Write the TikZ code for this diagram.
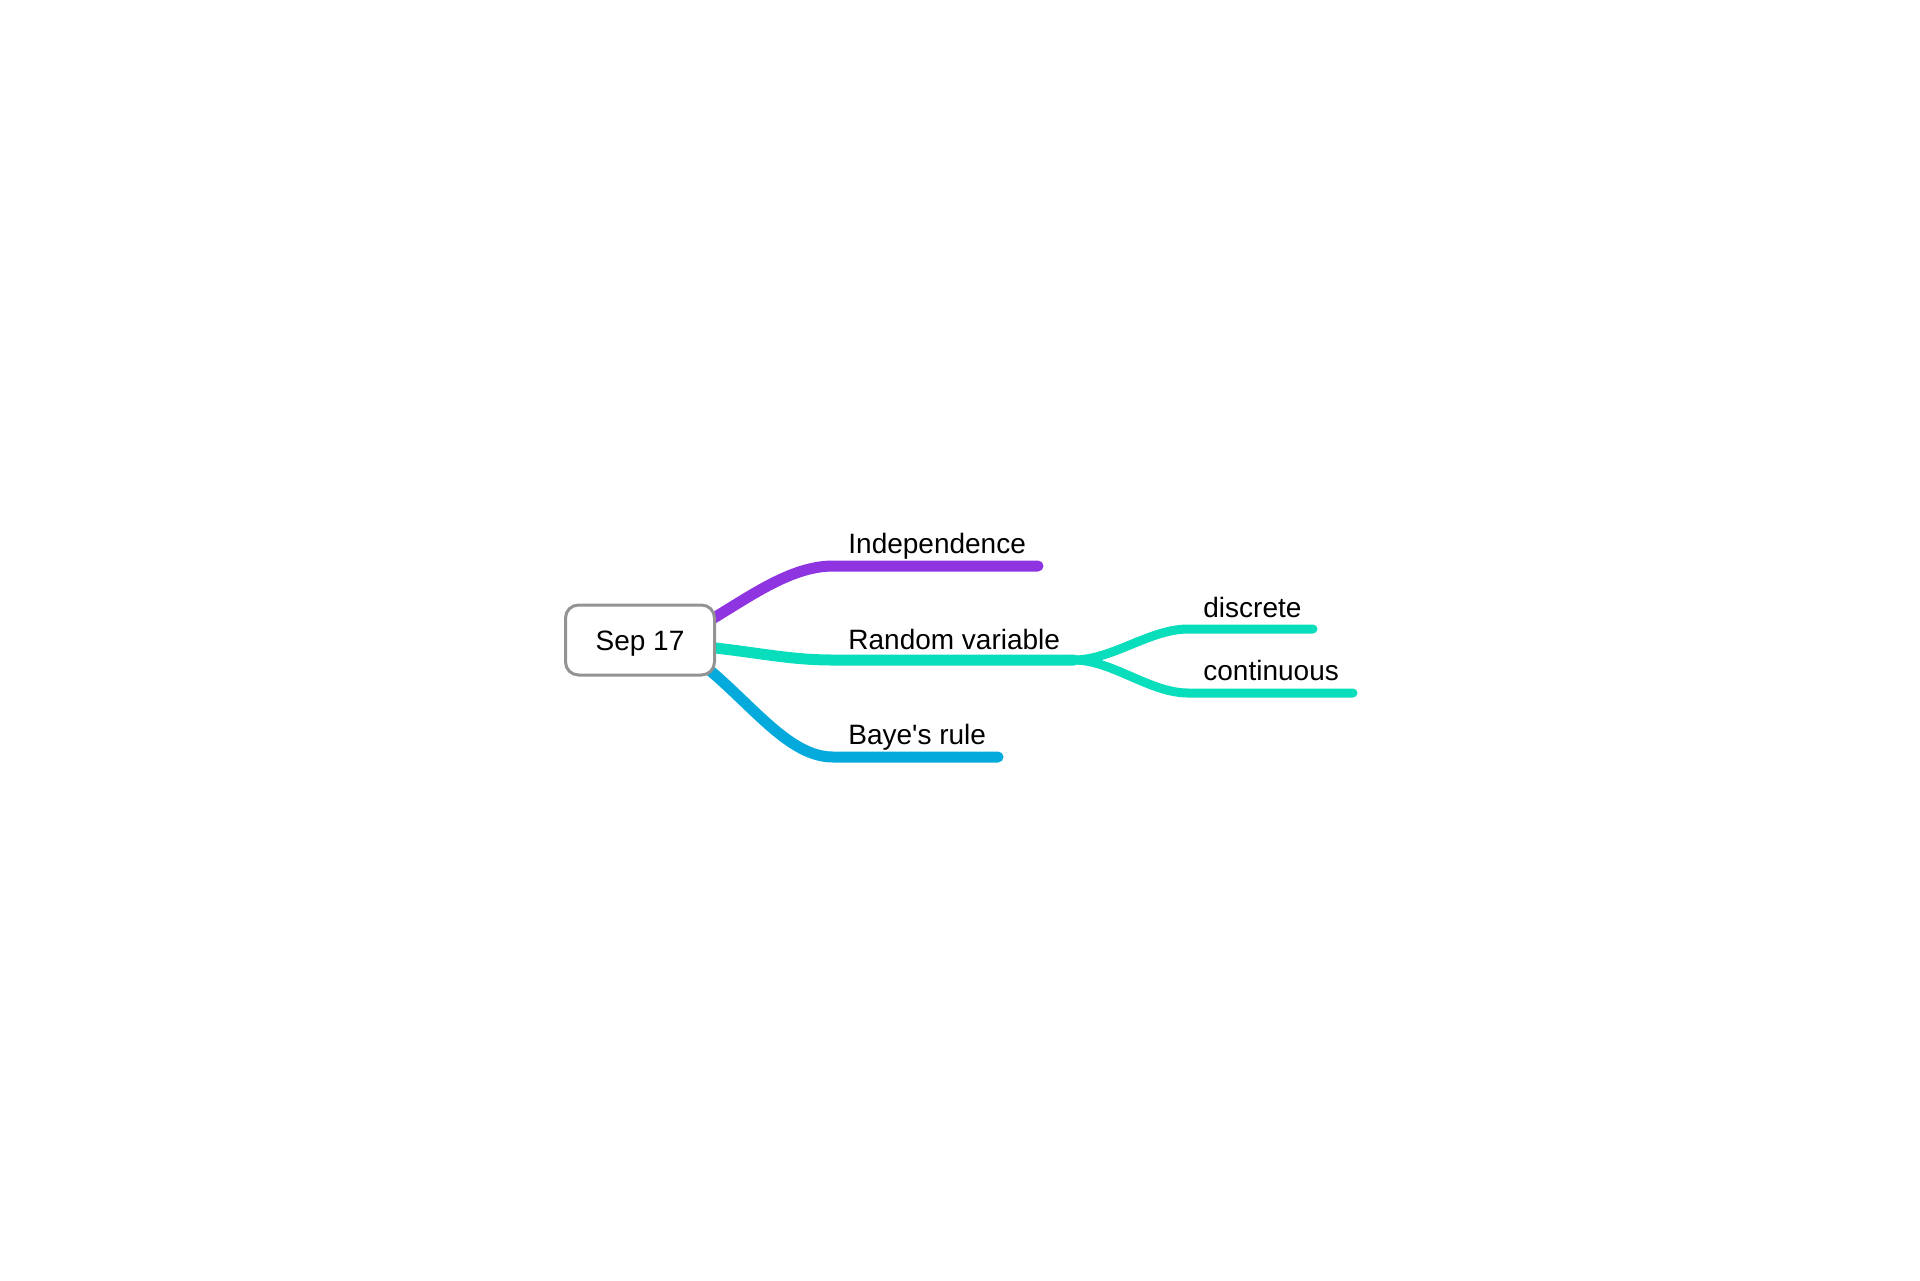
\documentclass[tikz,border=0pt]{standalone}
\usepackage{fontspec}
\setmainfont{Liberation Sans}
\usetikzlibrary{backgrounds}
\definecolor{branchpurple}{RGB}{142,52,224}
\definecolor{branchteal}{RGB}{8,222,188}
\definecolor{branchblue}{RGB}{4,170,220}
\tikzset{
  root/.style={draw=gray!85, line width=1.5pt, rounded corners=6.5pt, fill=white,
               minimum width=74.5pt, minimum height=35pt,
               font=\fontsize{14}{16}\selectfont},
  topic/.style={inner sep=0pt, anchor=base west, font=\fontsize{14}{16}\selectfont},
  branch/.style={line width=5.5pt, line cap=round, shorten <=-6pt},
  twig/.style={line width=4.5pt, line cap=round},
}
\begin{document}
\begin{tikzpicture}[x=0.5pt, y=-0.5pt]
\useasboundingbox (0,0) rectangle (1920,1280);

\node[root] (sep) at (640,640) {\smash{\raisebox{-5.3pt}{Sep 17}}};

\node[topic] (ind) at (848,553) {Independence};
\node[topic] (rv)  at (848,649) {Random variable};
\node[topic] (bay) at (848,744) {Baye\textquotesingle s rule};
\node[topic] (dis) at (1203,617) {discrete};
\node[topic] (con) at (1203,680) {continuous};

% line ends
\coordinate (ind-a) at (833,566); \coordinate (ind-b) at (1038,566);
\coordinate (rv-a)  at (833,660); \coordinate (rv-b)  at (1074,660);
\coordinate (bay-a) at (833,757); \coordinate (bay-b) at (998,757);
\coordinate (dis-a) at (1188,629); \coordinate (dis-b) at (1313,629);
\coordinate (con-a) at (1188,693); \coordinate (con-b) at (1353,693);

\begin{scope}[on background layer]
\draw[branch, branchpurple] (sep.17) .. controls (748,598) and (790,566) .. (ind-a) -- (ind-b);
\draw[branch, branchteal] (sep.-6) .. controls (762,653) and (790,660) .. (rv-a) -- (rv-b);
\draw[branch, branchblue] (sep.-25) .. controls (755,708) and (790,757) .. (bay-a) -- (bay-b);
\draw[twig, branchteal] (rv-b) .. controls (1112,660) and (1150,629) .. (dis-a) -- (dis-b);
\draw[twig, branchteal] (rv-b) .. controls (1112,660) and (1150,693) .. (con-a) -- (con-b);
\end{scope}
\end{tikzpicture}
\end{document}
